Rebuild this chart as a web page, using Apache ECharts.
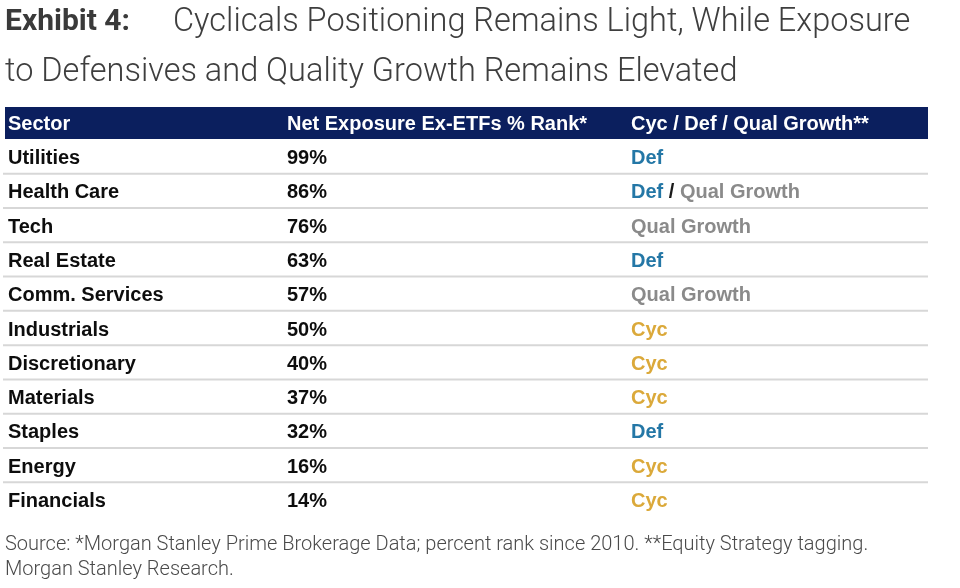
<!DOCTYPE html>
<html>
<head>
<meta charset="utf-8">
<script src="https://cdn.jsdelivr.net/npm/echarts@6/dist/echarts.min.js"></script>
<style>
html,body{margin:0;padding:0;background:#fff;}
#chart{width:960px;height:588px;}
</style>
</head>
<body>
<div id="chart"></div>
<script>
// ---- data ----
const titleLead = 'Exhibit 4:';
const titleLine1 = 'Cyclicals Positioning Remains Light, While Exposure';
const titleLine2 = 'to Defensives and Quality Growth Remains Elevated';
const headers = ['Sector', 'Net Exposure Ex-ETFs % Rank*', 'Cyc / Def / Qual Growth**'];
const sectors = ['Utilities', 'Health Care', 'Tech', 'Real Estate', 'Comm. Services', 'Industrials',
  'Discretionary', 'Materials', 'Staples', 'Energy', 'Financials'];
const netExposure = [99, 86, 76, 63, 57, 50, 40, 37, 32, 16, 14];
const tags = [['Def'], ['Def', 'Qual Growth'], ['Qual Growth'], ['Def'], ['Qual Growth'], ['Cyc'],
  ['Cyc'], ['Cyc'], ['Def'], ['Cyc'], ['Cyc']];
const sourceNote = 'Source: *Morgan Stanley Prime Brokerage Data; percent rank since 2010. **Equity Strategy tagging.\nMorgan Stanley Research.';

// ---- styling ----
const tableFont = 'Liberation Sans';
const titleFont = 'Roboto';
const colX = [5, 284, 628];      // column text offsets on the hidden x scale
const xMax = 925;
const textDy = 2;
const tagColors = { 'Def': '#2477a6', 'Qual Growth': '#8a8a8a', 'Cyc': '#dba93a' };
const tagKey = { 'Def': 'def', 'Qual Growth': 'qg', 'Cyc': 'cyc' };

const chart = echarts.init(document.getElementById('chart'), null, { renderer: 'canvas' });

function tStyle(extra) {
  return Object.assign({ fontFamily: tableFont, fontWeight: 'bold', fontSize: 20 }, extra);
}
const richTags = {
  def: tStyle({ fill: tagColors['Def'] }),
  qg: tStyle({ fill: tagColors['Qual Growth'] }),
  cyc: tStyle({ fill: tagColors['Cyc'] }),
  sl: tStyle({ fill: '#1a1a1a' })
};

const option = {
  backgroundColor: '#fff',
  animation: false,
  title: [
    { text: titleLead, left: 5, top: 7, padding: 0,
      textStyle: { fontFamily: titleFont, fontWeight: 'bold', fontSize: 30, color: '#3a3a3a' } },
    { text: titleLine1, left: 173, top: 6, padding: 0,
      textStyle: { fontFamily: titleFont, fontWeight: 300, fontSize: 32.5, color: '#3e3e3e' } },
    { text: titleLine2, left: 5, top: 56, padding: 0,
      textStyle: { fontFamily: titleFont, fontWeight: 300, fontSize: 32.5, color: '#3e3e3e' } },
    { text: sourceNote, left: 5, top: 532, padding: 0,
      textStyle: { fontFamily: titleFont, fontWeight: 300, fontSize: 20, lineHeight: 25, color: '#4a4a4a' } }
  ],
  graphic: [
    { type: 'rect', shape: { x: 5, y: 107, width: 923, height: 32 }, style: { fill: '#0b1f5e' }, silent: true },
    ...headers.map((h, k) => ({
      type: 'text', x: colX[k] + 3, y: 124,
      style: tStyle({ text: h, fill: '#fff', verticalAlign: 'middle' }),
      silent: true
    }))
  ],
  grid: { left: 3, right: 32, top: 139.5, height: 377, containLabel: false },
  xAxis: { type: 'value', min: 0, max: xMax, show: false },
  yAxis: { type: 'category', data: sectors, inverse: true, show: false },
  series: [{
    type: 'custom',
    silent: true,
    data: sectors.map((s, i) => [0, i]),
    renderItem: function (params, api) {
      const i = params.dataIndex;
      const c = api.coord([0, i]);
      const bandH = api.size([0, 1])[1];
      const xs = colX.map(v => api.coord([v, i])[0]);
      const xEnd = api.coord([xMax, i])[0];
      const children = [
        { type: 'text', x: xs[0], y: c[1] + textDy,
          style: tStyle({ text: sectors[i], fill: '#0d0d0d', verticalAlign: 'middle' }) },
        { type: 'text', x: xs[1], y: c[1] + textDy,
          style: tStyle({ text: netExposure[i] + '%', fill: '#0d0d0d', verticalAlign: 'middle' }) },
        { type: 'text', x: xs[2], y: c[1] + textDy,
          style: tStyle({ text: tags[i].map(t => '{' + tagKey[t] + '|' + t + '}').join('{sl| / }'),
                   rich: richTags, verticalAlign: 'middle' }) }
      ];
      if (i < sectors.length - 1) {
        const yl = c[1] + bandH / 2;
        children.push({ type: 'line', shape: { x1: c[0], y1: yl, x2: xEnd, y2: yl },
          style: { stroke: '#d7d7d7', lineWidth: 2 } });
      }
      return { type: 'group', children: children };
    }
  }]
};
chart.setOption(option);
</script>
</body>
</html>
